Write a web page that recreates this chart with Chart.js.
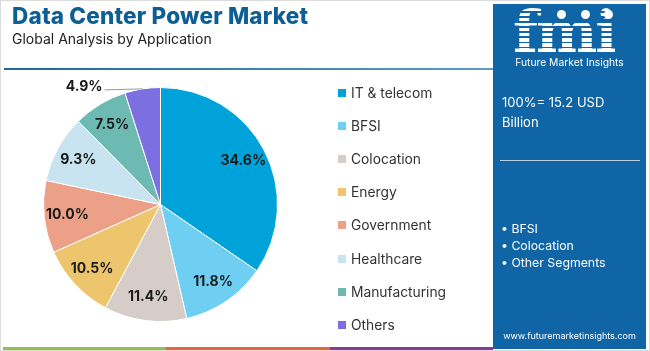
<!DOCTYPE html>
<html>
<head>
<meta charset="utf-8">
<script src="https://cdn.jsdelivr.net/npm/chart.js@4/dist/chart.umd.min.js"></script>
<style>
  body { margin: 0; background: #fff; }
  #wrap { position: relative; width: 650px; height: 351px; overflow: hidden; background: #fff; font-family: "Inter", "Open Sans", sans-serif; }
  #frame { position: absolute; left: 0; top: 0; width: 650px; height: 351px; box-sizing: border-box; border: 1px solid #dcdcdc; }
  #title { position: absolute; left: 12px; top: 2px; font-size: 22.5px; font-weight: 800; letter-spacing: 0.2px; color: #0d5e93; white-space: nowrap; }
  #subtitle { position: absolute; left: 12px; top: 30px; font-size: 14px; color: #222; white-space: nowrap; }
  #rule { position: absolute; left: 4px; top: 68px; width: 489px; height: 2px; background: linear-gradient(90deg, #1f67a0, #5a9ccb); }
  #legend { position: absolute; left: 338px; top: 76px; }
  .item { height: 33.2px; display: flex; align-items: center; font-size: 13.8px; color: #333; white-space: nowrap; }
  .box { width: 8px; height: 8px; margin-right: 5px; }
  #panel { position: absolute; left: 493px; top: 4px; width: 153px; height: 345px; background: #0f65a6; color: #fff; }
  #logo { position: absolute; left: 20px; top: -6px; font: bold 58px "DejaVu Serif", serif; letter-spacing: -2px;
          background: repeating-linear-gradient(180deg, #fff 0 3.5px, transparent 3.5px 5px); -webkit-background-clip: text; background-clip: text; color: transparent; }
  .dot { position: absolute; width: 9px; height: 9px; border-radius: 50%; background: #fff; }
  #fmi { position: absolute; left: 0; width: 153px; top: 52px; text-align: center; font-size: 10.3px; }
  #total { position: absolute; left: 9px; top: 88px; font-size: 13px; line-height: 20px; }
  #hr { position: absolute; left: 7px; top: 156px; width: 140px; height: 1px; background: rgba(255,255,255,0.7); }
  #bul { position: absolute; left: 8px; top: 216px; font-size: 12.3px; line-height: 17px; }
  #url { position: absolute; left: 0; width: 153px; top: 326px; text-align: center; font-size: 9px; }
  #strip { position: absolute; left: 3px; top: 347px; height: 3px; width: 490px; display: flex; }
</style>
</head>
<body>
<div id="wrap">
  <div id="frame"></div>
  <canvas id="pie" width="650" height="351" style="position:absolute;left:0;top:0"></canvas>
  <div id="title">Data Center Power Market</div>
  <div id="subtitle">Global Analysis by Application</div>
  <div id="rule"></div>
  <div id="legend"></div>
  <div id="panel">
    <div id="logo">fmi</div>
    <div class="dot" style="left:64px;top:6px"></div>
    <div class="dot" style="left:88px;top:6px"></div>
    <div class="dot" style="left:111px;top:6px"></div>
    <div id="fmi">Future Market Insights</div>
    <div id="total">100%= 15.2 USD<br>Billion</div>
    <div id="hr"></div>
    <div id="bul">• BFSI<br>• Colocation<br>• Other Segments</div>
    <div id="url">www.futuremarketinsights.com</div>
  </div>
  <div id="strip">
    <div style="flex:1;background:#8fc04f"></div>
    <div style="flex:1;background:#e5653f"></div>
    <div style="flex:1;background:#8b3a8c"></div>
  </div>
</div>
<script>
const categories = ['IT & telecom', 'BFSI', 'Colocation', 'Energy', 'Government', 'Healthcare', 'Manufacturing', 'Others'];
const shares = [34.6, 11.8, 11.4, 10.5, 10.0, 9.3, 7.5, 4.9];
const colors = ['#00a3d9', '#6ecff2', '#d7cdc8', '#ecc56d', '#eba087', '#c8e4f1', '#6dbab2', '#7b6fe2'];

// legend built from the same arrays
const legend = document.getElementById('legend');
categories.forEach((c, i) => {
  legend.innerHTML += '<div class="item"><span class="box" style="background:' + colors[i] + '"></span>' + c + '</div>';
});

// percent labels, small slices go outside with a leader line
const sliceLabels = {
  id: 'sliceLabels',
  afterDatasetsDraw(chart) {
    const ctx = chart.ctx;
    const meta = chart.getDatasetMeta(0);
    ctx.save();
    ctx.font = 'bold 14px Inter, "Open Sans", sans-serif';
    ctx.fillStyle = '#1a1a1a';
    ctx.textBaseline = 'middle';
    meta.data.forEach((arc, i) => {
      const p = arc.getProps(['x', 'y', 'startAngle', 'endAngle', 'outerRadius'], true);
      const mid = (p.startAngle + p.endAngle) / 2;
      const txt = shares[i].toFixed(1) + '%';
      if (shares[i] < 6) {
        const ex = p.x + Math.cos(mid) * p.outerRadius;
        const ey = p.y + Math.sin(mid) * p.outerRadius;
        ctx.strokeStyle = '#999';
        ctx.lineWidth = 1;
        ctx.beginPath();
        ctx.moveTo(ex, ey);
        ctx.lineTo(ex - 38, ey + 1);
        ctx.stroke();
        ctx.textAlign = 'right';
        ctx.fillText(txt, ex - 40, ey - 2);
      } else {
        const r = p.outerRadius * 0.8;
        ctx.textAlign = 'center';
        ctx.fillText(txt, p.x + Math.cos(mid) * r, p.y + Math.sin(mid) * r);
      }
    });
    ctx.restore();
  }
};

new Chart(document.getElementById('pie'), {
  type: 'pie',
  data: {
    labels: categories,
    datasets: [{
      data: shares,
      backgroundColor: colors,
      borderColor: '#ffffff',
      borderWidth: 1
    }]
  },
  options: {
    responsive: false,
    animation: false,
    layout: { padding: { left: 43, top: 87, right: 372, bottom: 29 } },
    plugins: {
      legend: { display: false },
      tooltip: { enabled: false }
    }
  },
  plugins: [sliceLabels]
});
</script>
</body>
</html>
